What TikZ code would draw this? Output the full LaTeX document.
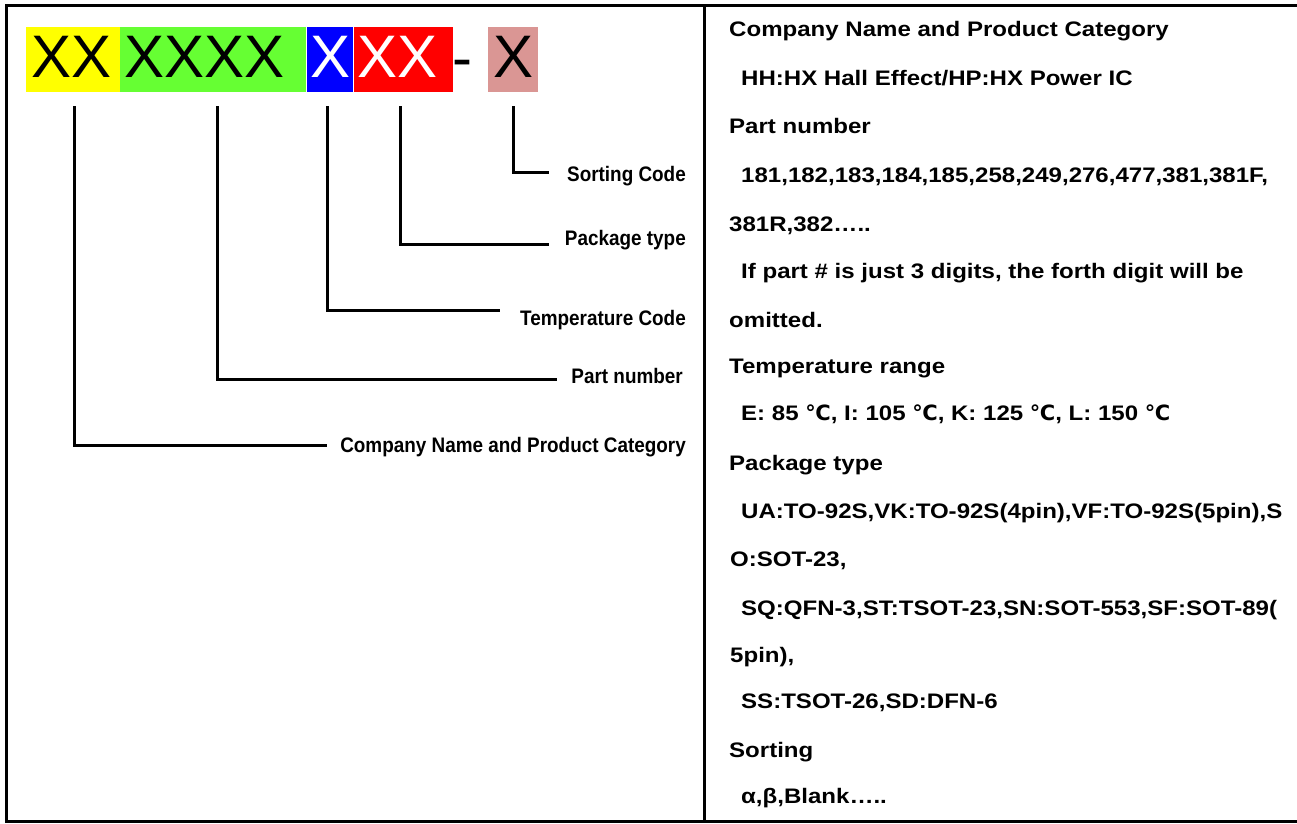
\documentclass[tikz,border=0pt]{standalone}
\usepackage{fontspec}
\setmainfont{Liberation Sans}
\newfontfamily\rfont[FakeStretch=1.145]{Liberation Sans}
\newfontfamily\lfont[FakeStretch=0.9]{Liberation Sans}
\newfontfamily\dfont{DejaVu Sans}
\newcommand\degc{{\dfont\bfseries ℃}}
\definecolor{cyel}{RGB}{255,255,0}
\definecolor{cgrn}{RGB}{102,255,51}
\definecolor{cblu}{RGB}{0,0,255}
\definecolor{cred}{RGB}{255,0,0}
\definecolor{cpnk}{RGB}{218,150,148}
\begin{document}
\begin{tikzpicture}[x=1pt,y=-1pt,
  frame/.style={line width=3pt},
  conn/.style={line width=3pt},
  codebox/.style={anchor=north west, inner ysep=0pt, minimum height=65pt,
    text height=43pt, text depth=8pt, align=left,
    font=\fontsize{60pt}{60pt}\selectfont},
  rtext/.style={anchor=base west, inner sep=0pt,
    font=\rfont\bfseries\fontsize{21pt}{24pt}\selectfont},
  ltext/.style={anchor=base east, inner sep=0pt,
    font=\lfont\bfseries\fontsize{21pt}{24pt}\selectfont}]
\useasboundingbox (0,0) rectangle (1297,823);
\fill[white] (0,0) rectangle (1297,823);

% frame
\draw[frame] (1305,5) -- (6,5) -- (6,821) -- (1305,821);
\draw[frame] (704,5) -- (704,821);

% code boxes
\node[codebox, fill=cyel, inner xsep=5pt, text width=84pt] (bxx) at (26,27) {XX};
\node[codebox, fill=cgrn, inner xsep=4pt, text width=178pt] (bpart) at (120,27) {XXXX};
\node[codebox, fill=cblu, text=white, inner xsep=3pt, text width=40pt] (btemp) at (307,27) {X};
\node[codebox, fill=cred, text=white, inner xsep=3pt, text width=93pt] (bpack) at (354,27) {XX};
\node[anchor=base west, inner sep=0pt, font=\fontsize{60pt}{60pt}\selectfont] (dash) at (452,78) {-};
\node[codebox, fill=cpnk, inner xsep=5pt, text width=40pt] (bsort) at (488,27) {X};

% labels
\node[ltext] (lsort) at (686,181) {Sorting Code};
\node[ltext] (lpack) at (686,245) {Package type};
\node[ltext] (ltemp) at (686,325) {Temperature Code};
\node[ltext] (lpart) at (683,383) {Part number};
\node[ltext] (lcomp) at (686,452) {Company Name and Product Category};

% connectors
\coordinate (v1) at (74,106);  \coordinate (e1) at (327,445);
\coordinate (v2) at (217,106); \coordinate (e2) at (557,379);
\coordinate (v3) at (327,106); \coordinate (e3) at (500,310);
\coordinate (v4) at (400,106); \coordinate (e4) at (549,244);
\coordinate (v5) at (513,106); \coordinate (e5) at (549,172);
\draw[conn] (v1) |- (e1);
\draw[conn] (v2) |- (e2);
\draw[conn] (v3) |- (e3);
\draw[conn] (v4) |- (e4);
\draw[conn] (v5) |- (e5);

% right column text
\node[rtext] (r1)  at (729,36)  {Company Name and Product Category};
\node[rtext] (r2)  at (741,85)  {HH:HX Hall Effect/HP:HX Power IC};
\node[rtext] (r3)  at (729,133) {Part number};
\node[rtext] (r4)  at (741,182) {181,182,183,184,185,258,249,276,477,381,381F,};
\node[rtext] (r5)  at (729,231) {381R,382…..};
\node[rtext] (r6)  at (741,278) {If part \# is just 3 digits, the forth digit will be};
\node[rtext] (r7)  at (729,327) {omitted.};
\node[rtext] (r8)  at (729,373) {Temperature range};
\node[rtext] (r9)  at (741,420) {E: 85 \degc, I: 105 \degc, K: 125 \degc, L: 150 \degc};
\node[rtext] (r10) at (729,470) {Package type};
\node[rtext] (r11) at (741,518) {UA:TO-92S,VK:TO-92S(4pin),VF:TO-92S(5pin),S};
\node[rtext] (r12) at (730,566) {O:SOT-23,};
\node[rtext] (r13) at (741,615) {SQ:QFN-3,ST:TSOT-23,SN:SOT-553,SF:SOT-89(};
\node[rtext] (r14) at (730,662) {5pin),};
\node[rtext] (r15) at (741,708) {SS:TSOT-26,SD:DFN-6};
\node[rtext] (r16) at (729,757) {Sorting};
\node[rtext] (r17) at (741,803) {α,β,Blank…..};
\end{tikzpicture}
\end{document}
